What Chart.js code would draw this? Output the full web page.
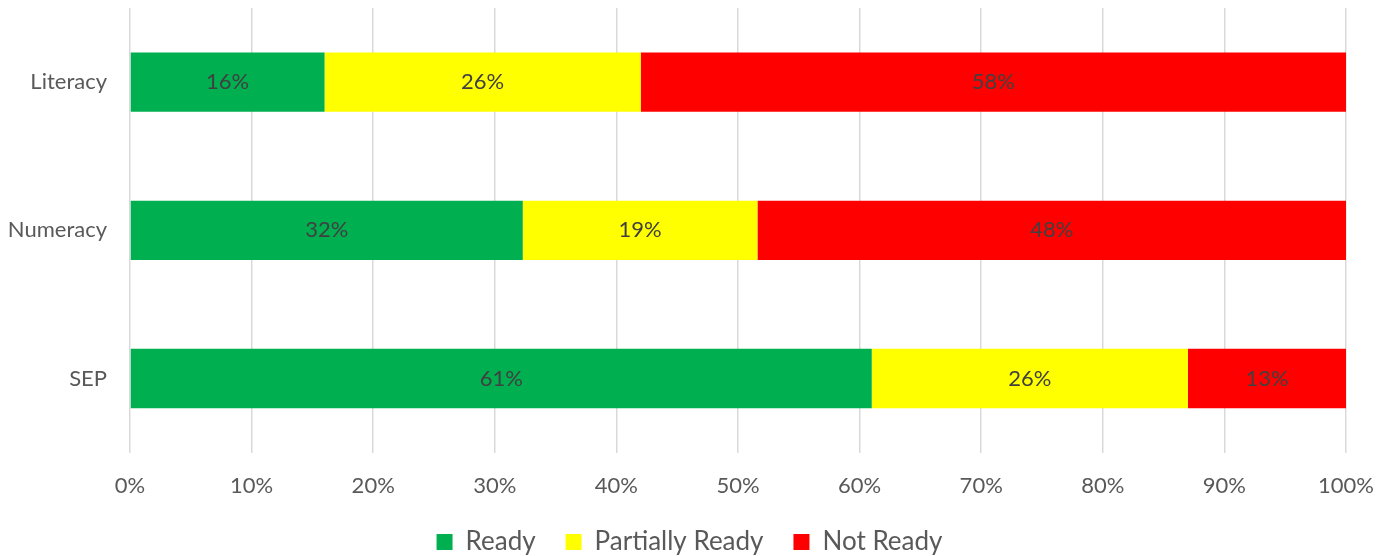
<!DOCTYPE html>
<html>
<head>
<meta charset="utf-8">
<script src="https://cdn.jsdelivr.net/npm/chart.js@4/dist/chart.umd.min.js"></script>
<style>
    html, body { margin: 0; padding: 0; background: #ffffff; }
    #wrap { width: 1390px; height: 556px; }
</style>
</head>
<body>
<div id="wrap"><canvas id="readinessChart"></canvas></div>
<script>
const categories = ["Literacy", "Numeracy", "SEP"];
const readyValues = [16, 32.3, 61];
const partialValues = [26, 19.3, 26];
const notReadyValues = [58, 48.4, 13];
const xTicks = [0, 10, 20, 30, 40, 50, 60, 70, 80, 90, 100];

const textColor = "#595959";
const fontFamily = "Lato, 'Open Sans', sans-serif";

// draws the % text in the middle of every bar piece
const barLabels = {
    id: "barLabels",
    afterDatasetsDraw(chart) {
        const ctx = chart.ctx;
        ctx.save();
        ctx.font = "22px " + fontFamily;
        ctx.fillStyle = "#404040";
        ctx.textAlign = "center";
        ctx.textBaseline = "middle";
        chart.data.datasets.forEach((ds, i) => {
            chart.getDatasetMeta(i).data.forEach((bar, j) => {
                const mid = (bar.x + bar.base) / 2;
                ctx.fillText(Math.round(ds.data[j]) + "%", mid, bar.y);
            });
        });
        ctx.restore();
    }
};

new Chart(document.getElementById("readinessChart"), {
    type: "bar",
    data: {
        labels: categories,
        datasets: [
            { label: "Ready", data: readyValues, backgroundColor: "#00b050" },
            { label: "Partially Ready", data: partialValues, backgroundColor: "#ffff00" },
            { label: "Not Ready", data: notReadyValues, backgroundColor: "#ff0000" }
        ]
    },
    options: {
        indexAxis: "y",
        responsive: true,
        maintainAspectRatio: false,
        animation: false,
        layout: { padding: { top: 8, right: 11, left: 0, bottom: -9 } },
        datasets: {
            bar: { categoryPercentage: 1, barPercentage: 0.4, borderWidth: 0 }
        },
        plugins: {
            legend: {
                position: "bottom",
                labels: {
                    color: textColor,
                    font: { family: fontFamily, size: 26 },
                    boxWidth: 16,
                    boxHeight: 16,
                    padding: 10,
                    // extra room between the legend items
                    generateLabels(chart) {
                        const items = Chart.defaults.plugins.legend.labels.generateLabels(chart);
                        items.forEach((item, i) => {
                            if (i < items.length - 1) item.text += "   ";
                        });
                        return items;
                    }
                }
            },
            tooltip: { enabled: false }
        },
        scales: {
            x: {
                stacked: true,
                min: 0,
                max: 100,
                afterBuildTicks(axis) {
                    axis.ticks = xTicks.map(v => ({ value: v }));
                },
                afterFit(axis) {
                    axis.paddingRight = 44;
                },
                ticks: {
                    color: textColor,
                    font: { family: fontFamily, size: 22 },
                    padding: 20,
                    callback: v => v + "%"
                },
                grid: { color: "#d9d9d9", lineWidth: 1.5, drawTicks: false },
                border: { display: false }
            },
            y: {
                stacked: true,
                afterFit(axis) {
                    axis.width = 130;
                    axis.paddingTop = 0;
                    axis.paddingBottom = 0;
                },
                ticks: {
                    color: textColor,
                    font: { family: fontFamily, size: 22 },
                    padding: 23
                },
                grid: { display: false, drawTicks: false },
                border: { display: false }
            }
        }
    },
    plugins: [barLabels]
});
</script>
</body>
</html>
